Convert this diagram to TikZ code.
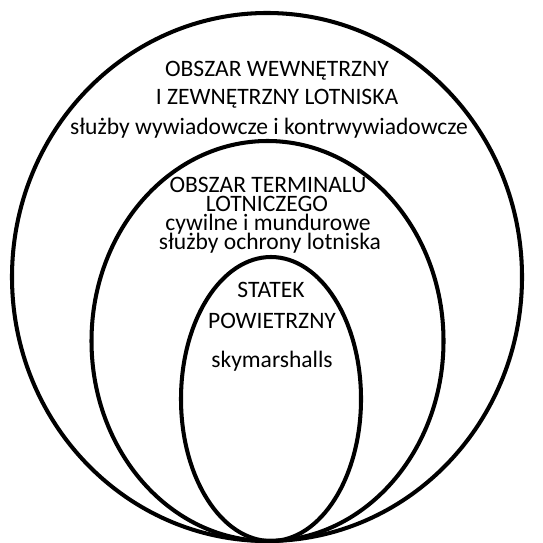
\documentclass[tikz,border=0pt]{standalone}
\usepackage{fontspec}
\setmainfont{Carlito}
\begin{document}
\begin{tikzpicture}[x=0.02cm,y=-0.02cm,
  ring/.style={line width=2.3pt},
  lbl/.style={anchor=base,inner sep=0pt,font=\fontsize{13.4}{15}\selectfont}]
\useasboundingbox (0,0) rectangle (542,543);

% strefy
\draw[ring] (267,277) ellipse [x radius=255,y radius=264];
\draw[ring] (267.5,341) ellipse [x radius=176,y radius=200];
\draw[ring] (271,399) ellipse [x radius=90,y radius=142];

% obszar lotniska
\node[lbl] (out1) at (277,77) {OBSZAR WEWNĘTRZNY};
\node[lbl] (out2) at (277,105) {I ZEWNĘTRZNY LOTNISKA};
\node[lbl] (out3) at (269,135) {służby wywiadowcze i kontrwywiadowcze};

% terminal
\node[lbl] (mid1) at (268,193) {OBSZAR TERMINALU};
\node[lbl] (mid2) at (267,212) {LOTNICZEGO};
\node[lbl] (mid3) at (268,231) {cywilne i mundurowe};
\node[lbl] (mid4) at (270,250) {służby ochrony lotniska};

% samolot
\node[lbl] (in1) at (271,297) {STATEK};
\node[lbl] (in2) at (272,328) {POWIETRZNY};
\node[lbl] (in3) at (272,367) {skymarshalls};
\end{tikzpicture}
\end{document}
